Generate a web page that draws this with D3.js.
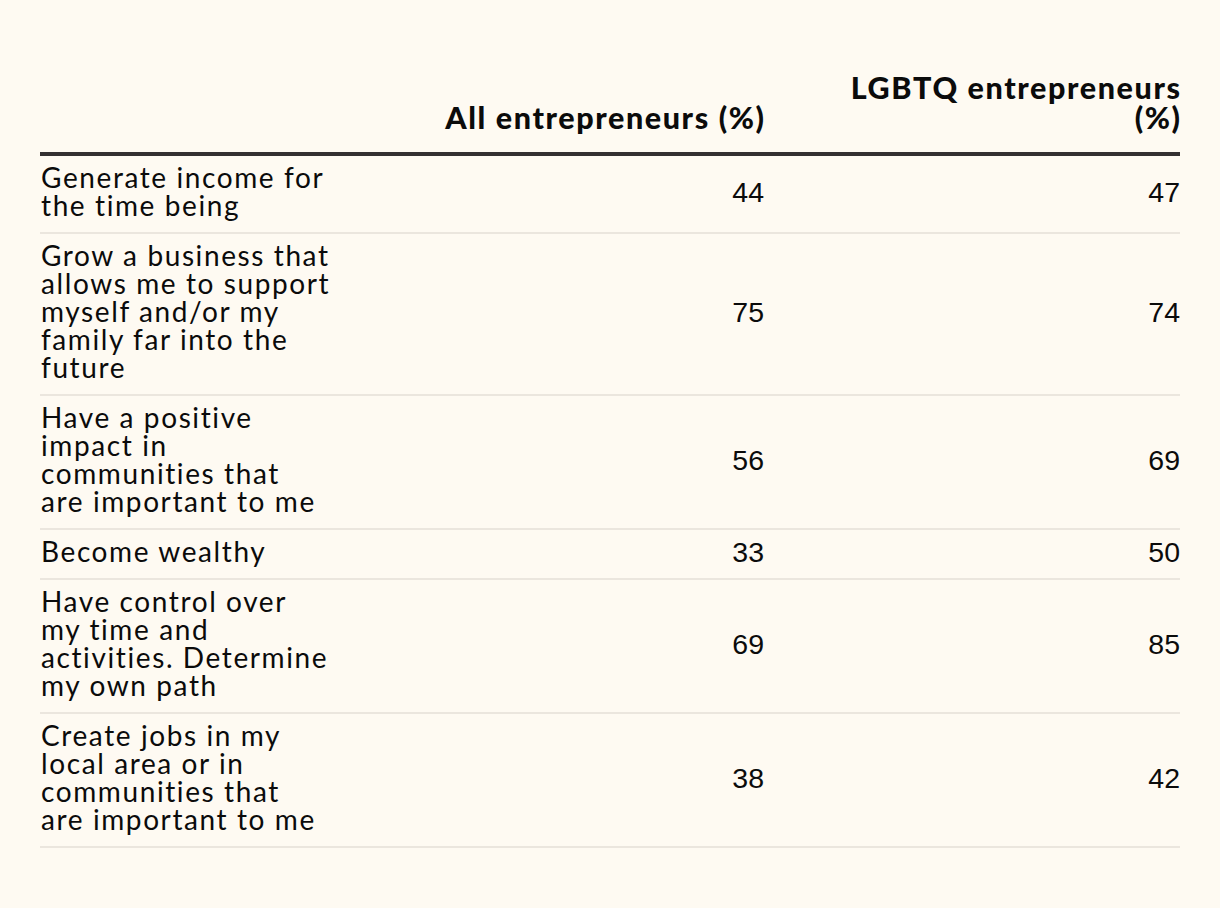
<!DOCTYPE html>
<html>
<head>
<meta charset="utf-8">
<script src="https://cdn.jsdelivr.net/npm/d3@7"></script>
<style>
  html, body { margin: 0; padding: 0; background: #fefaf2; }
  svg { display: block; }
</style>
</head>
<body>
<svg id="chart" width="1220" height="908"></svg>
<script>
// ---- data ----
const categories = [
  ["Generate income for", "the time being"],
  ["Grow a business that", "allows me to support", "myself and/or my", "family far into the", "future"],
  ["Have a positive", "impact in", "communities that", "are important to me"],
  ["Become wealthy"],
  ["Have control over", "my time and", "activities. Determine", "my own path"],
  ["Create jobs in my", "local area or in", "communities that", "are important to me"]
];
const allEntrepreneurs = [44, 75, 56, 33, 69, 38];
const lgbtqEntrepreneurs = [47, 74, 69, 50, 85, 42];
const columnHeaders = [["All entrepreneurs (%)"], ["LGBTQ entrepreneurs", "(%)"]];

// ---- layout ----
const svg = d3.select("#chart");
const W = 1220, H = 908;
svg.append("rect").attr("width", W).attr("height", H).attr("fill", "#fefaf2");

const left = 40, right = 1180;
const headerLine = 154;
const lineH = 28, pad = 22;
const labelFont = "Lato, 'Noto Sans', sans-serif";
const numFont = "'Liberation Sans', Arial, sans-serif";

const rowHeights = categories.map(c => c.length * lineH + pad);
const tops = [];
let acc = 0;
rowHeights.forEach(h => { tops.push(acc); acc += h; });
const y = d3.scaleLinear().domain([0, acc]).range([headerLine + 1, headerLine + 1 + acc]);

const colRight = [764, 1180];

// headers
columnHeaders.forEach((lines, ci) => {
  const n = lines.length;
  const t = svg.append("text")
    .attr("text-anchor", "end")
    .attr("font-family", labelFont)
    .attr("font-weight", 900)
    .attr("font-size", 30.5)
    .attr("letter-spacing", 1.6)
    .attr("fill", "#0b0b0b");
  lines.forEach((s, li) => {
    t.append("tspan")
      .attr("x", colRight[ci] + 1.6)
      .attr("y", 129 - (n - 1 - li) * 30)
      .text(s);
  });
});

// thick header rule
svg.append("rect")
  .attr("x", left).attr("y", headerLine - 2)
  .attr("width", right - left).attr("height", 4)
  .attr("fill", "#343031");

const rows = svg.append("g").selectAll("g.row")
  .data(categories.map((c, i) => ({ lines: c, a: allEntrepreneurs[i], b: lgbtqEntrepreneurs[i], top: tops[i], h: rowHeights[i] })))
  .join("g").attr("class", "row");

rows.each(function(d) {
  const g = d3.select(this);
  const y0 = y(d.top);
  const y1 = y(d.top + d.h);
  const t = g.append("text")
    .attr("font-family", labelFont)
    .attr("font-size", 28)
    .attr("letter-spacing", 1.6)
    .attr("fill", "#0b0b0b");
  d.lines.forEach((s, li) => {
    t.append("tspan")
      .attr("x", left + 1)
      .attr("y", y0 + 33 + li * lineH)
      .text(s);
  });
  const mid = (y0 + y1) / 2 - 2;
  [d.a, d.b].forEach((v, ci) => {
    g.append("text")
      .attr("x", colRight[ci])
      .attr("y", mid + 10)
      .attr("text-anchor", "end")
      .attr("font-family", numFont)
      .attr("font-size", 28.5)
      .attr("fill", "#0b0b0b")
      .text(v);
  });
  g.append("rect")
    .attr("x", left).attr("y", y1 - 1)
    .attr("width", right - left).attr("height", 2)
    .attr("fill", "#ebe6de");
});
</script>
</body>
</html>
